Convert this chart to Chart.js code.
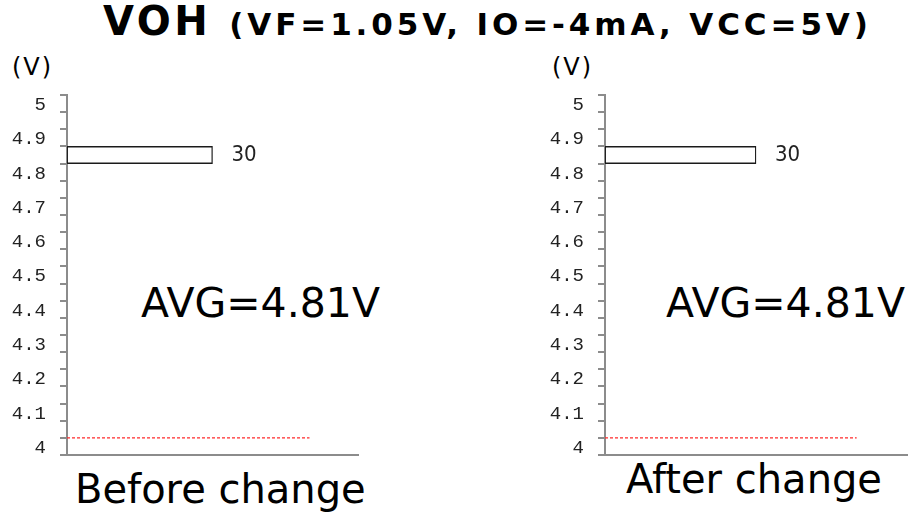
<!DOCTYPE html>
<html>
<head>
<meta charset="utf-8">
<script src="https://cdn.jsdelivr.net/npm/chart.js@4.4.1/dist/chart.umd.min.js"></script>
<style>
  html, body { margin:0; padding:0; background:#fff; width:916px; height:514px; overflow:hidden; }
  .t { position:absolute; white-space:nowrap; line-height:1; color:#000; font-family:"DejaVu Sans", sans-serif; }
  canvas { position:absolute; }
</style>
</head>
<body>
<div class="t" id="title"><span id="tMain">VOH</span><span id="tSub">(VF=1.05V, IO=-4mA, VCC=5V)</span></div>
<div class="t" id="unit1">(V)</div>
<div class="t" id="unit2">(V)</div>
<div class="t" id="avg1"></div>
<div class="t" id="avg2"></div>
<div class="t" id="cap1">Before change</div>
<div class="t" id="cap2">After change</div>
<canvas id="c1" width="390" height="390"></canvas>
<canvas id="c2" width="378" height="390"></canvas>
<script>
// ---- data ----
const binCenters = [4.825];          // histogram bin centre (V), bin 4.80–4.85
const countsBefore = [30];
const countsAfter = [30];
const yTickLabels = ['4','4.1','4.2','4.3','4.4','4.5','4.6','4.7','4.8','4.9','5'];
const lowerLimit = [4.0];            // lower spec line (V)
const limitLineX = [0, 50];          // extent of spec line on count axis
const avgBefore = 4.81;
const avgAfter = 4.81;
const axisMin = 3.95, axisMax = 5.0, binStep = 0.05, countMax = 60;

// ---- text placement ----
function place(id, left, baseline, size, extra) {
  const el = document.getElementById(id);
  el.style.left = left + 'px';
  el.style.top = (baseline - 0.846 * size) + 'px';
  el.style.fontSize = size + 'px';
  if (extra) Object.assign(el.style, extra);
}
document.getElementById('avg1').textContent = 'AVG=' + avgBefore.toFixed(2) + 'V';
document.getElementById('avg2').textContent = 'AVG=' + avgAfter.toFixed(2) + 'V';
place('title', 103, 35, 40, {fontWeight:'bold'});
document.getElementById('tMain').style.letterSpacing = '3.5px';
Object.assign(document.getElementById('tSub').style, {fontSize:'31px', letterSpacing:'3.9px', marginLeft:'18px'});
place('unit1', 12, 75, 24, {letterSpacing:'2px'});
place('unit2', 552, 75, 24, {letterSpacing:'2px'});
place('avg1', 141, 318, 41);
place('avg2', 666, 318, 41);
place('cap1', 75, 503, 40);
place('cap2', 626, 493, 40);

// ---- charts ----
const AXIS = '#8c8c8c';
const valueLabelPlugin = {
  id: 'valueLabel',
  afterDatasetsDraw(chart) {
    const ctx = chart.ctx;
    const meta = chart.getDatasetMeta(0);
    const data = chart.data.datasets[0].data;
    ctx.save();
    ctx.font = '22px "Liberation Sans Narrow", "DejaVu Sans Condensed", sans-serif';
    ctx.fillStyle = '#222';
    ctx.textAlign = 'left';
    ctx.textBaseline = 'middle';
    meta.data.forEach((el, i) => {
      ctx.fillText(String(data[i].x), el.x + 19, el.y);
    });
    ctx.restore();
  }
};

function tickLabel(v) {
  const hit = yTickLabels.find(l => Math.abs(Number(l) - v) < 1e-6);
  return hit === undefined ? '' : hit;
}

function makeChart(id, counts, padRight) {
  new Chart(document.getElementById(id), {
    type: 'bar',
    data: {
      datasets: [
        {
          type: 'bar',
          indexAxis: 'y',
          data: binCenters.map((c, i) => ({ x: counts[i], y: c })),
          backgroundColor: '#ffffff',
          borderColor: '#1a1a1a',
          borderWidth: 1.3,
          borderSkipped: false,
          barPercentage: 1,
          categoryPercentage: 1,
          xAxisID: 'x', yAxisID: 'y'
        },
        {
          type: 'line',
          indexAxis: 'x',
          data: limitLineX.map(x => ({ x: x, y: lowerLimit[0] })),
          borderColor: '#ff2a2a',
          borderWidth: 1.2,
          borderDash: [3, 2],
          pointRadius: 0,
          fill: false,
          xAxisID: 'x', yAxisID: 'y'
        }
      ]
    },
    options: {
      indexAxis: 'y',
      responsive: false,
      animation: false,
      devicePixelRatio: 1,
      layout: { padding: { left: 0, right: padRight, top: 15, bottom: 15 } },
      plugins: { legend: { display: false }, tooltip: { enabled: false }, title: { display: false } },
      scales: {
        x: {
          type: 'linear', position: 'bottom', min: 0, max: countMax, offset: false,
          ticks: { display: false },
          grid: { display: false, drawTicks: false, offset: false },
          border: { display: true, color: AXIS, width: 2 },
          afterFit: s => { s.height = 0; s.paddingLeft = 0; s.paddingRight = 0; }
        },
        y: {
          type: 'linear', position: 'left', min: axisMin, max: axisMax, offset: false,
          ticks: {
            stepSize: binStep, autoSkip: false, padding: 14, labelOffset: 10,
            color: '#222', font: { family: '"Liberation Mono", "DejaVu Sans Mono", monospace', size: 19 },
            callback: v => tickLabel(v)
          },
          grid: { offset: false, drawOnChartArea: false, drawTicks: true, tickLength: 7, lineWidth: 2, tickWidth: 2, tickColor: AXIS, color: AXIS },
          border: { display: true, color: AXIS, width: 2 },
          afterFit: s => { s.width = 67; s.paddingTop = 0; s.paddingBottom = 0; }
        }
      }
    },
    plugins: [valueLabelPlugin]
  });
}
document.getElementById('c1').style.left = '0px';
document.getElementById('c1').style.top = '80px';
document.getElementById('c2').style.left = '538px';
document.getElementById('c2').style.top = '80px';
makeChart('c1', countsBefore, 32);
makeChart('c2', countsAfter, 9);
</script>
</body>
</html>
